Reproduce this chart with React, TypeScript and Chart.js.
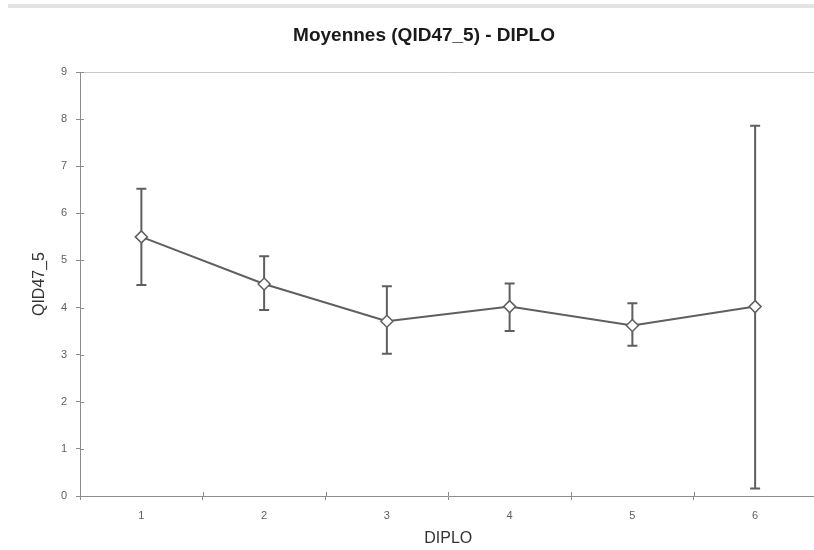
import React, { useEffect, useRef } from "react";
import { Chart, registerables } from "chart.js";

Chart.register(...registerables);

const titleText = "Moyennes (QID47_5) - DIPLO";
const xTitle = "DIPLO";
const yTitle = "QID47_5";
const categories = ["1", "2", "3", "4", "5", "6"];
const means = [5.5, 4.5, 3.71, 4.02, 3.62, 4.02];
const lowerBounds = [4.48, 3.95, 3.02, 3.5, 3.19, 0.16];
const upperBounds = [6.52, 5.09, 4.45, 4.51, 4.09, 7.86];
const yMin = 0;
const yMax = 9;

const AXIS = "#8c8c8c";
const INK = "#5f5f5f";
const FONT = "'Liberation Sans', Arial, sans-serif";

const errorBarPlugin = {
  id: "errorBars",
  beforeDatasetsDraw(chart: any) {
    const { ctx, scales } = chart;
    const x = scales.x;
    const y = scales.y;
    ctx.save();
    ctx.strokeStyle = INK;
    ctx.lineWidth = 2;
    for (let i = 0; i < categories.length; i++) {
      const px = x.getPixelForValue(i);
      const top = y.getPixelForValue(upperBounds[i]);
      const bot = y.getPixelForValue(lowerBounds[i]);
      ctx.beginPath();
      ctx.moveTo(px, top);
      ctx.lineTo(px, bot);
      ctx.moveTo(px - 5, top);
      ctx.lineTo(px + 5, top);
      ctx.moveTo(px - 5, bot);
      ctx.lineTo(px + 5, bot);
      ctx.stroke();
    }
    ctx.restore();
  },
};

const decorPlugin = {
  id: "decor",
  afterDraw(chart: any) {
    const { ctx, scales, chartArea } = chart;
    const x = scales.x;
    const y = scales.y;
    ctx.save();
    // light frame band at the top of the sheet
    ctx.fillStyle = "#e2e2e2";
    ctx.fillRect(8, 4, chart.width - 8, 4);
    ctx.strokeStyle = AXIS;
    ctx.lineWidth = 1;
    ctx.beginPath();
    y.ticks.forEach((t: any) => {
      const py = Math.round(y.getPixelForValue(t.value)) + 0.5;
      ctx.moveTo(chartArea.left, py);
      ctx.lineTo(chartArea.left + 4, py);
    });
    for (let i = 0; i < categories.length - 1; i++) {
      const px = Math.round((x.getPixelForValue(i) + x.getPixelForValue(i + 1)) / 2) + 0.5;
      ctx.moveTo(px, chartArea.bottom);
      ctx.lineTo(px, chartArea.bottom - 4);
    }
    ctx.stroke();
    ctx.fillStyle = "#1a1a1a";
    ctx.font = `bold 19px ${FONT}`;
    ctx.textAlign = "center";
    ctx.textBaseline = "middle";
    ctx.fillText(titleText, 424, 36);
    ctx.restore();
  },
};

export default function App() {
  const ref = useRef<HTMLCanvasElement | null>(null);
  useEffect(() => {
    if (!ref.current) return;
    const chart = new Chart(ref.current, {
      type: "line",
      data: {
        labels: categories,
        datasets: [
          {
            data: means,
            borderColor: INK,
            borderWidth: 2,
            pointStyle: "rectRot",
            pointRadius: 6,
            pointBackgroundColor: "#ffffff",
            pointBorderColor: INK,
            pointBorderWidth: 1.5,
            tension: 0,
          },
        ],
      },
      options: {
        animation: false,
        responsive: false,
        layout: { padding: { top: 72, right: 0, left: 0, bottom: 0 } },
        plugins: {
          legend: { display: false },
          tooltip: { enabled: false },
          title: { display: false },
        },
        scales: {
          x: {
            offset: true,
            grid: {
              offset: true,
              color: "rgba(0,0,0,0)",
              tickColor: AXIS,
              tickLength: 4,
            },
            border: { color: AXIS, width: 1 },
            ticks: {
              color: INK,
              font: { family: FONT, size: 11 },
              padding: 9,
            },
            title: {
              display: true,
              text: xTitle,
              color: "#333333",
              font: { family: FONT, size: 16 },
              padding: { top: 0, bottom: 2 },
            },
            afterFit(scale: any) {
              scale.height = 54;
            },
          },
          y: {
            min: yMin,
            max: yMax,
            ticks: {
              stepSize: 1,
              color: INK,
              font: { family: FONT, size: 11 },
              padding: 9,
            },
            grid: {
              color: (c: any) => (c.tick && c.tick.value === yMax ? "#c8c8c8" : "rgba(0,0,0,0)"),
              tickColor: AXIS,
              tickLength: 4,
            },
            border: { color: AXIS, width: 1 },
            title: {
              display: true,
              text: yTitle,
              color: "#333333",
              font: { family: FONT, size: 16 },
              padding: { top: 30, bottom: 0 },
            },
            afterFit(scale: any) {
              scale.width = 80;
            },
          },
        },
      },
      plugins: [errorBarPlugin, decorPlugin],
    });
    return () => chart.destroy();
  }, []);
  return (
    <div style={{ position: "fixed", left: 0, top: 0, width: 824, height: 550, background: "#fff" }}>
      <canvas ref={ref} width={824} height={550} />
    </div>
  );
}
